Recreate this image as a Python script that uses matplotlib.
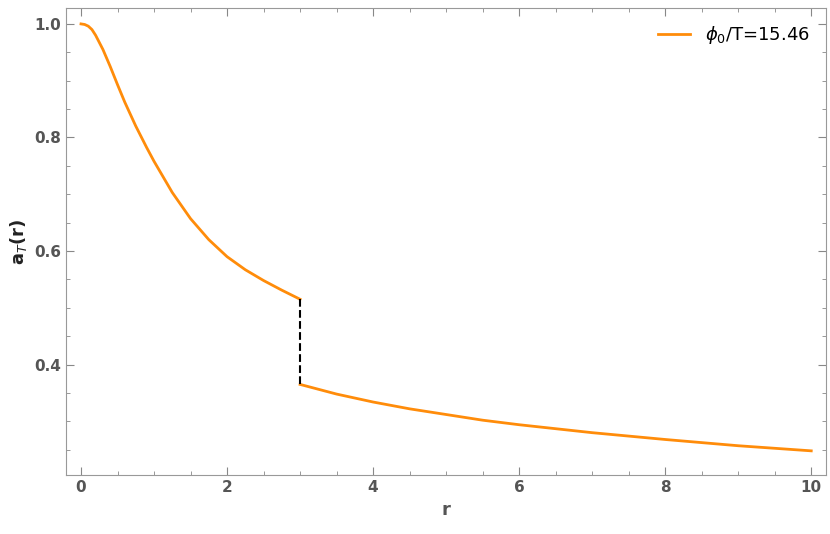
import numpy as np
import matplotlib.pyplot as plt
from matplotlib.ticker import MultipleLocator

# values
r_inner = [0, 0.05, 0.1, 0.15, 0.2, 0.3, 0.4, 0.5, 0.6, 0.75, 0.9, 1.0, 1.25, 1.5, 1.75, 2.0, 2.25, 2.5, 2.75, 3.0]
a_inner = [1.0, 0.999, 0.996, 0.99, 0.98, 0.955, 0.925, 0.893, 0.862, 0.82, 0.782, 0.758, 0.703, 0.657, 0.62, 0.59, 0.567, 0.548, 0.531, 0.515]
r_outer = [3.0, 3.5, 4.0, 4.5, 5.0, 5.5, 6.0, 7.0, 8.0, 9.0, 10.0]
a_outer = [0.365, 0.348, 0.334, 0.322, 0.312, 0.302, 0.294, 0.28, 0.268, 0.257, 0.248]
label = r"$\phi_0$/T=15.46"
orange = "#FF8C0A"

fig, ax = plt.subplots(figsize=(8.3, 5.34), dpi=100)
fig.subplots_adjust(left=0.08, right=0.995, bottom=0.11, top=0.985)

ax.plot(r_inner, a_inner, color=orange, lw=2, label=label, solid_joinstyle='round')
ax.plot(r_outer, a_outer, color=orange, lw=2, solid_joinstyle='round')
ax.plot([r_inner[-1], r_outer[0]], [a_inner[-1], a_outer[0]], 'k--', lw=1.5)

ax.set_xlim(-0.2, 10.2)
ax.set_ylim(0.205, 1.028)
ax.xaxis.set_major_locator(MultipleLocator(2))
ax.xaxis.set_minor_locator(MultipleLocator(0.5))
ax.yaxis.set_major_locator(MultipleLocator(0.2))
ax.yaxis.set_minor_locator(MultipleLocator(0.05))
ax.tick_params(which='both', direction='in', top=True, right=True,
               labelcolor='#555555', labelsize=11, color='#888888')
ax.tick_params(which='major', length=6)
ax.tick_params(which='minor', length=3)
for t in ax.get_xticklabels() + ax.get_yticklabels():
    t.set_fontweight('bold')
for s in ax.spines.values():
    s.set_color('#999999')
ax.set_xlabel('r', fontsize=13, fontweight='bold', color='#555555')
ax.set_ylabel(r'$\mathbf{a_{\it{T}}}$(r)', fontsize=13, fontweight='bold', color='#222222')
ax.legend(loc='upper right', frameon=False, fontsize=13, handlelength=1.8)

fig.savefig('out.png')
